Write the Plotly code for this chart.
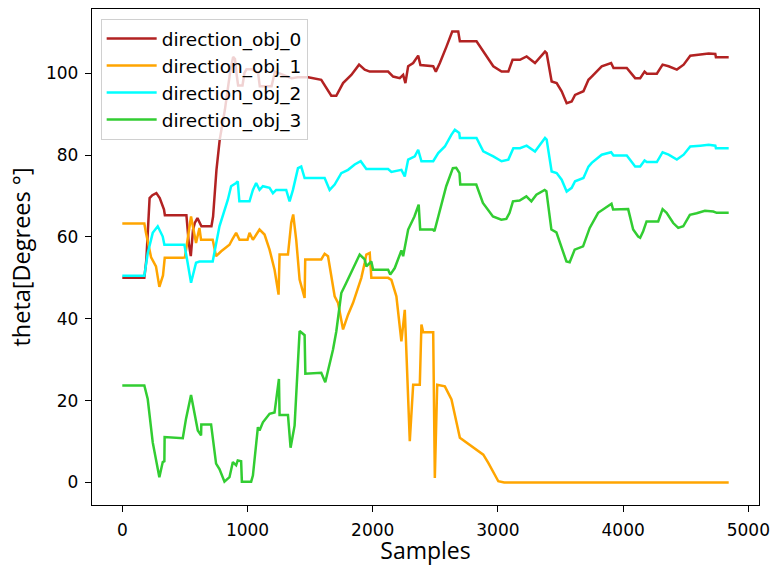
import plotly.graph_objects as go

# direction_obj_0 (red)
x0 = [0, 176, 192, 205, 218, 240, 272, 299, 317, 333, 340, 512, 531, 547, 565, 579, 600, 613, 632, 712,
      725, 752, 778, 819, 860, 885, 900, 912, 925, 960, 975, 992, 1032, 1060, 1085, 1098, 1192, 1219,
      1250, 1285, 1352, 1400, 1485, 1589, 1669, 1709, 1763, 1829, 1891, 1936, 1976, 2123, 2163, 2216,
      2243, 2261, 2283, 2323, 2363, 2381, 2483, 2504, 2536, 2589, 2635, 2683, 2696, 2829, 2883, 2963,
      3029, 3083, 3117, 3176, 3229, 3296, 3376, 3389, 3429, 3469, 3509, 3549, 3589, 3616, 3683, 3723,
      3749, 3829, 3904, 3923, 4029, 4096, 4136, 4171, 4189, 4269, 4315, 4363, 4429, 4483, 4536, 4616,
      4683, 4736, 4741, 4843]
y0 = [50, 50, 54.4, 62, 69.5, 70.2, 70.7, 69.5, 67.9, 66.7, 65.3, 65.3, 58.5, 55.3, 61.8, 63.4, 64.6, 63.8, 62.6, 62.6,
      65, 76.4, 83.8, 91, 100, 104, 103.5, 100, 97, 97, 100, 101, 101, 100.6, 100, 96.8, 96.8, 100.4,
      100, 99.6, 98.8, 99, 99, 98.4, 94.5, 94.5, 97.6, 99.6, 102.1, 100.9, 100.4, 100.4, 99.2, 98.8,
      99.6, 97.6, 101.7, 102.5, 104.3, 102, 101.7, 100.4, 102.5, 106.5, 110.2, 110.2, 107.8, 107.8, 105.3, 101.7,
      100.4, 100.4, 103.3, 103.3, 104.1, 102.5, 105.3, 104.9, 98, 97.6, 95.6, 92.7, 93.1, 94.7, 95.6, 98.4,
      99.2, 101.7, 102.5, 101.3, 101.3, 98.8, 98.8, 100.4, 99.9, 99.9, 102.1, 101.7, 100.9, 102.1, 104.3, 104.5,
      104.8, 104.7, 103.9, 103.9]

# direction_obj_1 (orange)
x1 = [0, 176, 189, 230, 269, 296, 325, 339, 482, 500, 549, 589, 616, 629, 722, 749, 790, 856, 880, 909,
      936, 1000, 1016, 1043, 1096, 1136, 1176, 1216, 1248, 1256, 1323, 1349, 1365, 1389, 1416, 1456, 1461,
      1589, 1616, 1643, 1696, 1723, 1763, 1803, 1843, 1909, 1936, 1949, 1976, 1989, 2123, 2149, 2189,
      2229, 2256, 2296, 2323, 2376, 2389, 2403, 2483, 2496, 2515, 2576, 2629, 2696, 2883, 2923, 3003,
      3050, 4843]
y1 = [63.3, 63.3, 61, 55, 52.8, 47.8, 50.6, 54.9, 54.9, 55, 65, 58.5, 62.2, 59.3, 59.3, 55.3, 56.5, 58.1, 59.5, 61,
      59.3, 59.3, 61, 59.3, 61.8, 60.6, 56.9, 52, 45.9, 55.7, 55.7, 63.4, 65.5, 59.3, 49.6, 45.1, 54.5,
      54.5, 55.9, 55.3, 45.5, 43.9, 37.4, 41, 43.9, 50, 53.7, 55.7, 56.1, 50, 50, 49.5, 45.5,
      34.5, 42.2, 10.1, 23.9, 23.9, 38.6, 36.7, 36.7, 1.1, 23.9, 23.5, 20.3, 10.9, 6.8, 4.8, 0.3,
      0, 0]

# direction_obj_2 (cyan)
x2 = [0, 176, 203, 243, 283, 300, 323, 336, 496, 520, 549, 589, 616, 722, 776, 843, 869, 909, 922, 935,
      1016, 1043, 1069, 1096, 1123, 1176, 1203, 1229, 1309, 1336, 1363, 1403, 1429, 1456, 1616, 1656,
      1696, 1749, 1803, 1856, 1904, 1949, 2123, 2149, 2229, 2256, 2283, 2336, 2363, 2389, 2483, 2523,
      2576, 2629, 2656, 2691, 2696, 2829, 2883, 2963, 3029, 3083, 3123, 3176, 3229, 3296, 3376, 3389,
      3429, 3469, 3509, 3549, 3589, 3616, 3683, 3723, 3749, 3829, 3904, 3923, 4029, 4096, 4136, 4171,
      4189, 4269, 4315, 4363, 4429, 4483, 4536, 4616, 4683, 4736, 4741, 4843]
y2 = [50.5, 50.5, 56, 61, 62.6, 61.5, 60.1, 58.1, 58.1, 54, 48.8, 53.7, 54, 54, 62.6, 69.1, 72.4, 73.2, 73.6, 68.7,
      68.7, 71.5, 73.2, 71.5, 72.4, 72, 70.7, 71.5, 71.5, 68.7, 71.5, 76.8, 77.2, 74.4, 74.4, 71.5,
      72.8, 75.6, 76.4, 77.7, 78.5, 76.6, 76.6, 75.9, 76.4, 74.8, 78.9, 79.7, 81.3, 78.5, 78.5, 80.5,
      82.1, 85, 86.2, 85.4, 84.2, 84.2, 80.9, 79.7, 78.5, 78.9, 81.7, 81.7, 82.3, 80.9, 84.2, 83.8,
      76, 75.6, 74, 71.1, 72, 73.6, 74.4, 77.2, 78.1, 80.1, 80.7, 79.9, 79.9, 77.2, 77.2, 78.7,
      78.3, 78.3, 80.7, 80.1, 78.9, 80.1, 82.1, 82.3, 82.5, 82.3, 81.7, 81.7]

# direction_obj_3 (green)
x3 = [0, 176, 203, 243, 296, 323, 336, 338, 483, 509, 549, 603, 629, 631, 709, 749, 776, 816, 856, 883,
      909, 922, 949, 955, 1029, 1043, 1083, 1096, 1123, 1176, 1216, 1243, 1251, 1256, 1323, 1344, 1376,
      1416, 1456, 1462, 1589, 1621, 1683, 1709, 1749, 1789, 1843, 1896, 1936, 1949, 1989, 2003, 2123,
      2140, 2176, 2216, 2229, 2243, 2283, 2333, 2367, 2379, 2480, 2493, 2533, 2587, 2640, 2667, 2693,
      2699, 2827, 2880, 2960, 3027, 3067, 3093, 3120, 3173, 3227, 3267, 3307, 3373, 3387, 3427, 3467,
      3507, 3547, 3573, 3613, 3680, 3733, 3800, 3867, 3907, 3920, 4040, 4080, 4120, 4136, 4160, 4187,
      4280, 4315, 4347, 4400, 4440, 4480, 4533, 4587, 4653, 4720, 4747, 4843]
y3 = [23.7, 23.7, 20.4, 9.8, 1.3, 5, 5.2, 11.1, 10.8, 15.6, 21.4, 12.7, 11.5, 14.2, 14.2, 4.6, 3.3, 0.2, 1.3, 5,
      4.2, 5.4, 5.2, 0.2, 0.2, 1.7, 13.5, 12.7, 14.7, 16.8, 17.1, 23.7, 25.3, 16.5, 16.5, 8.5, 13.9,
      37, 36, 26.6, 26.8, 24.5, 32.5, 36.9, 46.3, 48.8, 52.4, 55.7, 54.5, 52.8, 54, 52, 52,
      50.8, 52.4, 55.3, 56.7, 55.3, 61.8, 65, 67.9, 61.8, 61.8, 61.4, 65.9, 72.4, 76.8, 76.9, 75.6,
      72.8, 72.8, 68.3, 65, 64.2, 64.4, 65.9, 68.7, 68.9, 69.9, 68.7, 70.3, 71.5, 71.2, 61.8, 61.1,
      57.7, 54, 53.8, 56.9, 57.7, 62.2, 65.9, 67.3, 68.1, 66.7, 66.8, 61.8, 60.1, 59.8, 61.4, 63.8,
      63.8, 66.8, 65.9, 63.4, 62.2, 62.6, 65.4, 65.8, 66.4, 66.2, 65.9, 65.9]

names = ["direction_obj_0", "direction_obj_1", "direction_obj_2", "direction_obj_3"]
colors = ["#b22222", "#ffa500", "#00ffff", "#32cd32"]
xticks = [0, 1000, 2000, 3000, 4000, 5000]
yticks = [0, 20, 40, 60, 80, 100]

fig = go.Figure()
for i, (xs, ys, nm, c) in enumerate(zip([x0, x1, x2, x3], [y0, y1, y2, y3], names, colors)):
    fig.add_trace(go.Scatter(x=xs, y=ys, mode="lines", name=nm, legendgroup="g%d" % i,
                             line=dict(color=c, width=2.5)))

axis_common = dict(showline=True, linecolor="black", linewidth=1.3, mirror=True,
                   ticks="outside", ticklen=6, tickwidth=1.3, tickcolor="black",
                   showgrid=False, zeroline=False, ticklabelstandoff=3,
                   tickfont=dict(family="DejaVu Sans", size=17, color="black"))

fig.update_layout(
    width=773, height=566,
    margin=dict(l=92, r=14, t=9, b=61, autoexpand=False),
    paper_bgcolor="white", plot_bgcolor="white",
    showlegend=True,
    legend=dict(x=0.013, y=0.98, xanchor="left", yanchor="top",
                bgcolor="rgba(255,255,255,0.8)", bordercolor="#d0d0d0", borderwidth=1,
                font=dict(family="DejaVu Sans", size=18.5, color="black"),
                itemwidth=50, traceorder="grouped", tracegroupgap=0),
    xaxis=dict(range=[-242, 5085], tickvals=xticks,
               title=dict(text="Samples", font=dict(family="Open Sans", size=23, color="black"),
                          standoff=3),
               **axis_common),
    yaxis=dict(range=[-5.5, 115.7], tickvals=yticks,
               title=dict(text="theta[Degrees °]", font=dict(family="Open Sans", size=23.5, color="black"),
                          standoff=8),
               **axis_common),
)

fig.write_html("out.html")
